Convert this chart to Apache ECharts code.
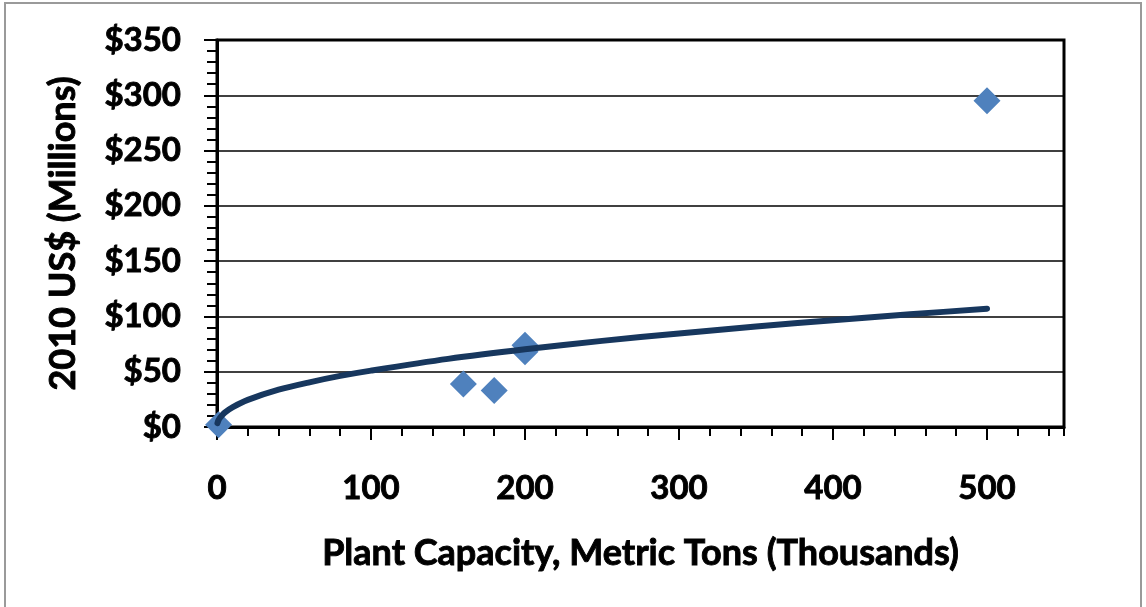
<!DOCTYPE html>
<html>
<head>
<meta charset="utf-8">
<script src="https://cdn.jsdelivr.net/npm/echarts@6/dist/echarts.min.js"></script>
<style>
  html, body { margin: 0; padding: 0; background: #fff; }
  #chart { width: 1146px; height: 607px; }
</style>
</head>
<body>
<div id="chart"></div>
<script>
// Plant capacity (thousand metric tons) vs. capital cost (2010 US$, millions)
const capacity = [1, 160, 180, 200, 200, 500];
const cost = [2, 39, 33, 74, 68, 295];

// Power-law trendline, sampled along the curve
const trendX = [0.3, 1, 2, 5, 10, 20, 40, 60, 80, 100, 150, 200, 250, 300, 350, 400, 450, 500];
const trendY = [3.5, 6.2, 8.5, 13, 17.8, 24.5, 33.7, 40.4, 46.2, 51, 61.6, 70.3, 77.9, 84.6, 90.8, 96.6, 101.9, 107];

const xTicks = [0, 100, 200, 300, 400, 500];
const yTicks = [0, 50, 100, 150, 200, 250, 300, 350];

const FONT = 'Lato';
const heavy = { fontFamily: FONT, fontWeight: 'bold', color: '#000', textBorderColor: '#000', textBorderWidth: 0.9 };
const tickText = { ...heavy, fontSize: 33 };
const titleText = { ...heavy, fontSize: 36 };

const chart = echarts.init(document.getElementById('chart'), null, { renderer: 'canvas' });

chart.setOption({
  animation: false,
  backgroundColor: '#fff',
  graphic: [{
    type: 'rect',
    shape: { x: 5, y: 3, width: 1136, height: 612 },
    style: { fill: 'none', stroke: '#9a9a9a', lineWidth: 2 },
    silent: true,
    z: -10
  }],
  grid: {
    left: 217, right: 82, top: 40, bottom: 180,
    show: true, borderColor: '#000', borderWidth: 3, backgroundColor: 'transparent'
  },
  xAxis: [{
    type: 'value',
    min: xTicks[0], max: 550, interval: 100,
    name: 'Plant Capacity, Metric Tons (Thousands)',
    nameLocation: 'middle', nameGap: 108,
    nameTextStyle: titleText,
    axisLine: { show: true, lineStyle: { color: '#000', width: 3 } },
    axisTick: { show: true, inside: false, length: 13, lineStyle: { color: '#000', width: 2 } },
    axisLabel: { ...tickText, margin: 45, showMaxLabel: false },
    splitLine: { show: false }
  }, {
    // minor ticks every 20
    type: 'value', position: 'bottom', gridIndex: 0,
    min: 0, max: 550, interval: 20,
    axisLine: { show: false },
    axisTick: { show: true, inside: false, length: 9, lineStyle: { color: '#000', width: 2 } },
    axisLabel: { show: false },
    splitLine: { show: false }
  }],
  yAxis: {
    type: 'value',
    min: yTicks[0], max: yTicks[yTicks.length - 1], interval: 50,
    name: '2010 US$ (Millions)',
    nameLocation: 'middle', nameGap: 136,
    nameTextStyle: titleText,
    axisLine: { show: true, lineStyle: { color: '#000', width: 3 } },
    axisTick: { show: true, inside: false, length: 13, lineStyle: { color: '#000', width: 2 } },
    minorTick: { show: true, splitNumber: 5, length: 10, lineStyle: { color: '#000', width: 2 } },
    axisLabel: { ...tickText, margin: 36, formatter: v => '$' + v },
    splitLine: { show: true, lineStyle: { color: '#000', width: 1.5 } }
  },
  series: [{
    name: 'Plants',
    type: 'scatter',
    xAxisIndex: 0,
    data: capacity.map((x, i) => [x, cost[i]]),
    symbol: 'diamond',
    symbolSize: 27,
    itemStyle: { color: '#4F81BD', opacity: 1 },
    z: 2
  }, {
    name: 'Power trend',
    type: 'line',
    xAxisIndex: 0,
    data: trendX.map((x, i) => [x, trendY[i]]),
    showSymbol: false,
    smooth: 0.3,
    lineStyle: { color: '#17375E', width: 6, cap: 'round', join: 'round' },
    z: 3
  }]
});
</script>
</body>
</html>
